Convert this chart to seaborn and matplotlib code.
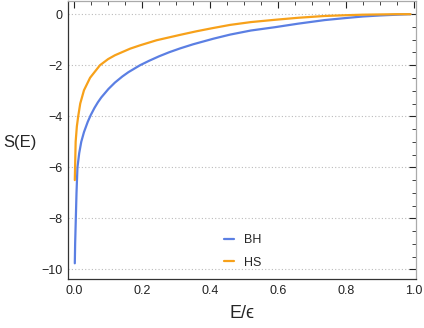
#Entropy curves S(E) for BH and HS

import numpy as np
import pandas as pd
import matplotlib.pyplot as plt
from matplotlib.ticker import MultipleLocator
import seaborn as sns

sns.set_theme(style="white")
plt.rcParams["font.family"] = ["Liberation Sans", "DejaVu Sans"]

COLORS = {"BH": "#5B7FE3", "HS": "#F7A11A"}

# values
bh_x = [0.002, 0.003, 0.005, 0.007, 0.0098, 0.015, 0.021, 0.029, 0.04, 0.049, 0.06, 0.07,
        0.08, 0.101, 0.12, 0.142, 0.16, 0.194, 0.22, 0.25, 0.28, 0.312, 0.35, 0.41, 0.459,
        0.52, 0.591, 0.66, 0.738, 0.80, 0.85, 0.90, 0.95, 0.99]
bh_y = [-9.76, -8.98, -8.0, -7.0, -6.0, -5.44, -5.0, -4.62, -4.22, -3.95, -3.67, -3.45,
        -3.26, -2.93, -2.68, -2.44, -2.27, -2.0, -1.83, -1.65, -1.49, -1.34, -1.18, -0.96, -0.8,
        -0.64, -0.51, -0.37, -0.23, -0.15, -0.09, -0.05, -0.02, 0.0]

hs_x = [0.002, 0.003, 0.0045, 0.008, 0.012, 0.018, 0.029, 0.047, 0.076, 0.1, 0.12, 0.165,
        0.194, 0.243, 0.312, 0.36, 0.406, 0.459, 0.52, 0.591, 0.66, 0.738, 0.80, 0.85, 0.90,
        0.95, 0.99]
hs_y = [-6.5, -5.9, -5.0, -4.4, -4.0, -3.5, -2.98, -2.49, -2.0, -1.76, -1.61, -1.35,
        -1.22, -1.02, -0.81, -0.67, -0.55, -0.42, -0.31, -0.22, -0.14, -0.07, -0.04, -0.02, -0.01,
        0.0, 0.0]

df = pd.concat([
    pd.DataFrame({"x": bh_x, "y": bh_y, "curve": "BH"}),
    pd.DataFrame({"x": hs_x, "y": hs_y, "curve": "HS"}),
])

fig = plt.figure(figsize=(4.24, 3.28), dpi=100)
ax = fig.add_axes([0.16, 0.149, 0.821, 0.849])

sns.lineplot(data=df, x="x", y="y", hue="curve", palette=COLORS, sort=False,
             estimator=None, linewidth=1.6, ax=ax)

ax.set_xlim(-0.0185, 1.006)
ax.set_ylim(-10.38, 0.53)
ax.xaxis.set_minor_locator(MultipleLocator(0.05))
ax.yaxis.set_minor_locator(MultipleLocator(0.5))
ax.set_xticks(np.arange(0, 1.01, 0.2))
ax.set_xticklabels(["0.0", "0.2", "0.4", "0.6", "0.8", "1.0"])
ax.set_yticks([0, -2, -4, -6, -8, -10])
ax.set_yticklabels(["0", "\u22122", "\u22124", "\u22126", "\u22128", "\u221210"])

ax.tick_params(which="both", direction="in", top=True, right=True, labelsize=9,
               colors="#222222", pad=4)
ax.tick_params(which="major", length=5, width=0.8)
ax.tick_params(which="minor", length=3, width=0.6)
for side in ["top", "right"]:
    ax.spines[side].set_color("#AAAAAA")
for side in ["left", "bottom"]:
    ax.spines[side].set_color("#333333")
for s in ax.spines.values():
    s.set_linewidth(0.9)

ax.grid(False)
ax.yaxis.grid(True, which="major", linestyle=(0, (1, 2)), color="#BBBBBB", linewidth=0.8)

ax.set_xlabel("E/\u03f5", fontsize=13, va="center")
ax.set_ylabel("S(E)", fontsize=12, rotation=0, ha="left", va="center")
ax.yaxis.set_label_coords(-0.185, 0.49)
ax.xaxis.set_label_coords(0.5, -0.122)

ax.legend(loc="center left", bbox_to_anchor=(0.449, 0.099), frameon=False, fontsize=9,
          handlelength=0.8, handletextpad=0.8, labelspacing=0.85, borderpad=0, borderaxespad=0)

plt.savefig("out.png", dpi=100)
plt.close()
